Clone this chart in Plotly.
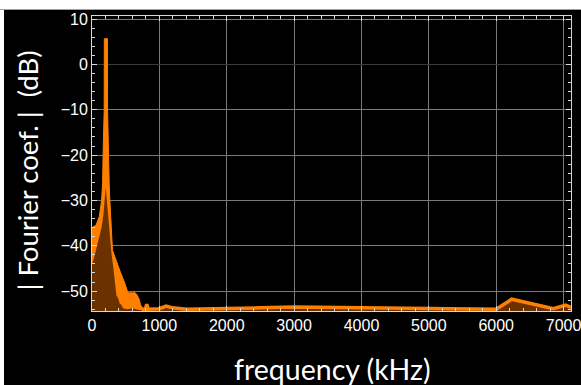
import plotly.graph_objects as go

# ---------------- data ----------------
# outer (upper) envelope of the spectrum band, then the single-line tail
upper_freq = [0, 20, 59, 108, 142, 157, 166, 181, 183, 229, 231, 240, 255, 265,
              289, 304, 338, 387, 426, 485, 534, 608, 650, 681, 706, 730, 755,
              790, 813, 835, 900, 1000, 1100, 1200, 1400, 2000, 2500, 3000,
              3500, 4000, 5000, 6000, 6230, 6850, 7030, 7110]
upper_db = [-36.5, -35.8, -35.5, -33.6, -30.0, -26.3, -18.9, -10.0, 5.7, 5.7,
            -10.0, -18.9, -26.3, -30.0, -37.3, -41.0, -42.4, -44.6, -46.0, -48.2,
            -50.4, -50.4, -51.0, -51.9, -53.3, -53.8, -54.0, -54.0, -52.9, -54.0,
            -54.0, -53.9, -53.3, -53.7, -54.0, -53.9, -53.7, -53.5, -53.6, -53.7,
            -53.9, -54.0, -51.8, -53.9, -53.1, -53.6]

# inner (lower) envelope of the band
lower_freq = [0, 20, 50, 100, 142, 170, 195, 205, 215, 240, 265, 289, 314, 338,
              363, 387, 412, 436, 461, 520, 600, 700, 760]
lower_db = [-44.0, -43.2, -41.5, -38.3, -36.0, -33.0, -28.5, -27.0, -29.0, -33.6,
            -37.3, -41.7, -44.5, -48.2, -51.0, -51.5, -52.8, -53.0, -53.8, -54.0,
            -53.8, -54.2, -54.0]

x_ticks = [0, 1000, 2000, 3000, 4000, 5000, 6000, 7000]
x_ticktext = ["0", "1000", "2000", "3000", "4000", "5000", "6000", "7000"]
y_ticks = [-50, -40, -30, -20, -10, 0, 10]
y_ticktext = ["\u221250", "\u221240", "\u221230", "\u221220", "\u221210", "0", "10"]

x_range = [0, 7110]
y_range = [-54.4, 10.7]
floor_db = -60
tail_start = 608

x_title = "frequency (kHz)"
y_title = "| Fourier coef. |  (dB)"

# ---------------- styles ----------------
ORANGE = "#FF8000"
BROWN = "#6B3200"
FRAME = "#D8D8D8"
GRID = "#7A7A7A"

tail_freq = [f for f in upper_freq if f > lower_freq[-1]]
tail_db = [v for f, v in zip(upper_freq, upper_db) if f > lower_freq[-1]]
lower_full_freq = lower_freq + tail_freq
lower_full_db = lower_db + tail_db

line_freq = [f for f in upper_freq if f >= tail_start]
line_db = [v for f, v in zip(upper_freq, upper_db) if f >= tail_start]

fig = go.Figure()
fig.add_trace(go.Scatter(x=x_range, y=[floor_db, floor_db], mode="lines",
                         line=dict(width=0), hoverinfo="skip", showlegend=False))
fig.add_trace(go.Scatter(x=upper_freq, y=upper_db, mode="lines", fill="tonexty",
                         fillcolor=ORANGE, line=dict(color=ORANGE, width=1),
                         showlegend=False))
fig.add_trace(go.Scatter(x=x_range, y=[floor_db, floor_db], mode="lines",
                         line=dict(width=0), hoverinfo="skip", showlegend=False))
fig.add_trace(go.Scatter(x=lower_full_freq, y=lower_full_db, mode="lines",
                         fill="tonexty", fillcolor=BROWN, line=dict(width=0),
                         showlegend=False))
fig.add_trace(go.Scatter(x=line_freq, y=line_db, mode="lines",
                         line=dict(color=ORANGE, width=3.5), showlegend=False))

W, H = 581, 385
L, R, T, B = 92, 10, 16, 74
pw, ph = W - L - R, H - T - B


def px(xp):
    return (xp - L) / pw


def py(yp):
    return (H - B - yp) / ph


fig.add_shape(type="rect", xref="paper", yref="paper", x0=px(4), x1=px(590),
              y0=py(395), y1=py(10), fillcolor="black", line=dict(width=0),
              layer="below")
fig.add_shape(type="line", xref="paper", yref="paper", x0=px(-5), x1=px(590),
              y0=py(9.5), y1=py(9.5), line=dict(color="#A0A0A0", width=1))

axis_common = dict(
    showline=True, linecolor=FRAME, linewidth=1, mirror="allticks",
    ticks="inside", ticklen=5, tickcolor=FRAME, tickwidth=1,
    showgrid=True, gridcolor=GRID, gridwidth=1, automargin=False,
    ticklabeloverflow="allow",
    tickfont=dict(family="Liberation Sans, Arial", size=16, color="white"),
)

fig.update_xaxes(range=x_range, tickvals=x_ticks, ticktext=x_ticktext,
                 zeroline=False,
                 minor=dict(dtick=200, tick0=0, ticks="inside", ticklen=3,
                            tickcolor=FRAME, showgrid=False),
                 **axis_common)
fig.update_yaxes(range=y_range, tickvals=y_ticks, ticktext=y_ticktext,
                 zeroline=True, zerolinecolor="#3A3A3A", zerolinewidth=1,
                 minor=dict(dtick=2, tick0=0, ticks="inside", ticklen=3,
                            tickcolor=FRAME, showgrid=False),
                 **axis_common)

fig.add_annotation(text=x_title, xref="paper", yref="paper", x=px(332), y=py(369),
                   xanchor="center", yanchor="middle", showarrow=False,
                   font=dict(family="Lato", size=28.5, color="white"))
fig.add_annotation(text=y_title, xref="paper", yref="paper", x=px(27), y=py(170.5),
                   xanchor="center", yanchor="middle", textangle=-90,
                   showarrow=False,
                   font=dict(family="Lato", size=27.5, color="white"))
fig.add_annotation(text="g", xref="paper", yref="paper", x=px(273), y=py(3),
                   xanchor="center", yanchor="bottom", showarrow=False,
                   font=dict(family="Lato", size=24, color="black"))

fig.update_layout(width=W, height=H, margin=dict(l=L, r=R, t=T, b=B),
                  paper_bgcolor="white", plot_bgcolor="black")

fig.write_html("out.html", config={"displayModeBar": False},
               post_script="document.body.style.margin='0';"
                           "document.body.style.overflow='hidden';")
